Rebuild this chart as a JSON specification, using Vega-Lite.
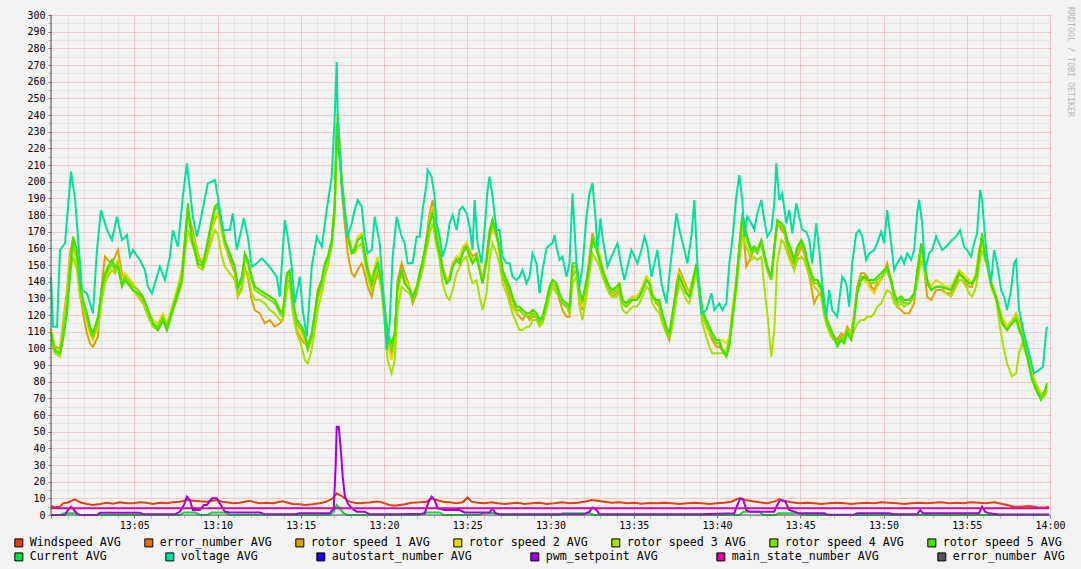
{
  "$schema": "https://vega.github.io/schema/vega-lite/v6.json",
  "width": 999,
  "height": 500,
  "autosize": {"type": "none"},
  "padding": {"left": 51, "top": 15, "right": 31, "bottom": 54},
  "background": "#f3f3f3",
  "config": {
    "view": {"fill": "white", "stroke": null},
    "font": "DejaVu Sans Mono",
    "line": {"strokeWidth": 2}
  },
  "title": {"text": "RRDTOOL / TOBI OETIKER", "orient": "right", "anchor": "start", "frame": "group", "offset": 2, "dx": -8, "fontSize": 8.3, "font": "DejaVu Sans Mono", "fontWeight": "normal", "color": "#b8b8b8"},
  "datasets": {
    "ws": [
      {"t":0,"v":5.4},{"t":0.24,"v":4.6},{"t":0.54,"v":5},{"t":0.72,"v":7},{"t":1.02,"v":7.5},{"t":1.44,"v":9.4},{"t":1.74,"v":7.6},{"t":2.16,"v":6.6},{"t":2.52,"v":6},{"t":2.94,"v":6.6},{"t":3.36,"v":7.4},{"t":3.72,"v":6.8},{"t":4.14,"v":7.6},{"t":4.56,"v":7},{"t":4.92,"v":7},{"t":5.34,"v":7.6},{"t":5.76,"v":7.4},{"t":6.12,"v":6.6},{"t":6.54,"v":7.4},{"t":6.96,"v":7},{"t":7.32,"v":7.6},{"t":7.74,"v":8},{"t":8.16,"v":9},{"t":8.52,"v":8.6},{"t":8.94,"v":8.2},{"t":9.36,"v":8},{"t":9.72,"v":8.6},{"t":9.96,"v":9},{"t":10.26,"v":8},{"t":10.56,"v":7.6},{"t":10.92,"v":7},{"t":11.34,"v":7.4},{"t":11.64,"v":8},{"t":11.94,"v":8.6},{"t":12.24,"v":7.6},{"t":12.54,"v":7},{"t":12.96,"v":7.4},{"t":13.32,"v":7},{"t":13.62,"v":7.6},{"t":13.92,"v":8.2},{"t":14.22,"v":7.4},{"t":14.52,"v":6.6},{"t":14.94,"v":6.5},{"t":15.3,"v":6},{"t":15.72,"v":6.4},{"t":16.14,"v":7},{"t":16.56,"v":8},{"t":16.92,"v":10},{"t":17.16,"v":13},{"t":17.34,"v":12},{"t":17.52,"v":11},{"t":17.76,"v":9},{"t":17.94,"v":8},{"t":18.24,"v":7.4},{"t":18.54,"v":7},{"t":18.84,"v":7.4},{"t":19.14,"v":7.5},{"t":19.44,"v":8},{"t":19.74,"v":8},{"t":20.04,"v":7},{"t":20.34,"v":6},{"t":20.64,"v":5.5},{"t":20.94,"v":6},{"t":21.24,"v":6.5},{"t":21.66,"v":7.4},{"t":22.14,"v":7.6},{"t":22.56,"v":8},{"t":22.86,"v":10},{"t":23.16,"v":9},{"t":23.52,"v":8},{"t":23.94,"v":7.6},{"t":24.36,"v":7},{"t":24.72,"v":7.6},{"t":25.02,"v":10.5},{"t":25.26,"v":8},{"t":25.62,"v":7.4},{"t":26.04,"v":7},{"t":26.46,"v":7.6},{"t":26.82,"v":7},{"t":27.24,"v":6.6},{"t":27.66,"v":7},{"t":28.02,"v":7.4},{"t":28.44,"v":6.6},{"t":28.86,"v":7},{"t":29.34,"v":7.4},{"t":29.76,"v":6.6},{"t":30.24,"v":7},{"t":30.66,"v":7.6},{"t":31.14,"v":7},{"t":31.62,"v":7.4},{"t":32.04,"v":8},{"t":32.46,"v":9},{"t":32.82,"v":8.6},{"t":33.24,"v":8},{"t":33.66,"v":7.4},{"t":34.14,"v":7.6},{"t":34.62,"v":7},{"t":35.04,"v":7.4},{"t":35.46,"v":6.8},{"t":35.94,"v":7.2},{"t":36.42,"v":7},{"t":36.84,"v":7.4},{"t":37.26,"v":7},{"t":37.74,"v":6.6},{"t":38.22,"v":7},{"t":38.64,"v":7.4},{"t":39.06,"v":7},{"t":39.54,"v":6.6},{"t":40.02,"v":7},{"t":40.44,"v":7.4},{"t":40.86,"v":8},{"t":41.22,"v":9.6},{"t":41.46,"v":10},{"t":41.7,"v":9},{"t":42.06,"v":8.4},{"t":42.54,"v":7.6},{"t":43.02,"v":7},{"t":43.44,"v":8},{"t":43.74,"v":9.4},{"t":44.04,"v":8.6},{"t":44.46,"v":7.6},{"t":44.94,"v":7},{"t":45.42,"v":7.4},{"t":45.84,"v":7},{"t":46.26,"v":6.6},{"t":46.74,"v":7},{"t":47.22,"v":7.4},{"t":47.64,"v":7},{"t":48.06,"v":6.6},{"t":48.54,"v":7},{"t":49.02,"v":7.4},{"t":49.44,"v":7},{"t":49.86,"v":7.6},{"t":50.34,"v":7.4},{"t":50.82,"v":7},{"t":51.24,"v":6.6},{"t":51.66,"v":7},{"t":52.14,"v":7.4},{"t":52.62,"v":7},{"t":53.04,"v":7.4},{"t":53.46,"v":7.6},{"t":53.94,"v":7},{"t":54.42,"v":7.4},{"t":54.84,"v":7},{"t":55.26,"v":7.6},{"t":55.74,"v":7.4},{"t":56.16,"v":7},{"t":56.64,"v":7.6},{"t":56.94,"v":7},{"t":57.42,"v":6},{"t":57.84,"v":5},{"t":58.26,"v":5},{"t":58.74,"v":5.4},{"t":59.22,"v":4.6},{"t":59.64,"v":4.4},{"t":59.94,"v":5}
    ],
    "rot": [
      {"t":0,"r1":105,"r2":112,"r3":103,"r4":110,"r5":109},
      {"t":0.24,"r1":101,"r2":100,"r3":97,"r4":98,"r5":99},
      {"t":0.54,"r1":100,"r2":99,"r3":95,"r4":97,"r5":97},
      {"t":0.72,"r1":115,"r2":113,"r3":107,"r4":110,"r5":105},
      {"t":0.96,"r1":135,"r2":131,"r3":125,"r4":127,"r5":121},
      {"t":1.14,"r1":157,"r2":153,"r3":145,"r4":149,"r5":143},
      {"t":1.32,"r1":165,"r2":163,"r3":155,"r4":165,"r5":167},
      {"t":1.56,"r1":151,"r2":150,"r3":147,"r4":155,"r5":159},
      {"t":1.74,"r1":133,"r2":133,"r3":131,"r4":137,"r5":139},
      {"t":1.92,"r1":121,"r2":125,"r3":125,"r4":127,"r5":129},
      {"t":2.16,"r1":109,"r2":117,"r3":117,"r4":119,"r5":121},
      {"t":2.34,"r1":103,"r2":109,"r3":110,"r4":111,"r5":113},
      {"t":2.52,"r1":101,"r2":105,"r3":107,"r4":107,"r5":109},
      {"t":2.82,"r1":107,"r2":113,"r3":113,"r4":117,"r5":119},
      {"t":3.06,"r1":139,"r2":131,"r3":129,"r4":135,"r5":137},
      {"t":3.24,"r1":155,"r2":141,"r3":139,"r4":143,"r5":145},
      {"t":3.42,"r1":153,"r2":145,"r3":143,"r4":147,"r5":149},
      {"t":3.66,"r1":151,"r2":151,"r3":147,"r4":151,"r5":153},
      {"t":3.84,"r1":155,"r2":149,"r3":145,"r4":147,"r5":149},
      {"t":4.02,"r1":159,"r2":153,"r3":149,"r4":151,"r5":149},
      {"t":4.26,"r1":145,"r2":141,"r3":139,"r4":139,"r5":137},
      {"t":4.44,"r1":141,"r2":145,"r3":141,"r4":143,"r5":141},
      {"t":4.62,"r1":139,"r2":143,"r3":139,"r4":141,"r5":139},
      {"t":4.92,"r1":135,"r2":139,"r3":135,"r4":137,"r5":135},
      {"t":5.22,"r1":133,"r2":135,"r3":131,"r4":135,"r5":133},
      {"t":5.52,"r1":129,"r2":131,"r3":127,"r4":131,"r5":131},
      {"t":5.82,"r1":121,"r2":123,"r3":119,"r4":123,"r5":123},
      {"t":6.12,"r1":113,"r2":117,"r3":113,"r4":115,"r5":115},
      {"t":6.42,"r1":111,"r2":115,"r3":111,"r4":113,"r5":111},
      {"t":6.72,"r1":117,"r2":121,"r3":117,"r4":119,"r5":117},
      {"t":6.96,"r1":111,"r2":115,"r3":113,"r4":113,"r5":111},
      {"t":7.26,"r1":121,"r2":125,"r3":121,"r4":123,"r5":121},
      {"t":7.56,"r1":133,"r2":135,"r3":129,"r4":133,"r5":131},
      {"t":7.86,"r1":147,"r2":147,"r3":139,"r4":143,"r5":141},
      {"t":8.04,"r1":165,"r2":163,"r3":157,"r4":165,"r5":163},
      {"t":8.22,"r1":181,"r2":177,"r3":171,"r4":183,"r5":187},
      {"t":8.46,"r1":173,"r2":169,"r3":163,"r4":167,"r5":165},
      {"t":8.64,"r1":165,"r2":163,"r3":157,"r4":161,"r5":159},
      {"t":8.82,"r1":157,"r2":155,"r3":149,"r4":153,"r5":151},
      {"t":9.12,"r1":149,"r2":153,"r3":147,"r4":151,"r5":149},
      {"t":9.42,"r1":161,"r2":163,"r3":157,"r4":163,"r5":165},
      {"t":9.66,"r1":171,"r2":171,"r3":165,"r4":175,"r5":177},
      {"t":9.84,"r1":177,"r2":179,"r3":171,"r4":183,"r5":185},
      {"t":10.02,"r1":181,"r2":181,"r3":169,"r4":185,"r5":187},
      {"t":10.26,"r1":171,"r2":169,"r3":155,"r4":173,"r5":175},
      {"t":10.44,"r1":163,"r2":161,"r3":149,"r4":163,"r5":165},
      {"t":10.74,"r1":153,"r2":155,"r3":145,"r4":155,"r5":157},
      {"t":11.04,"r1":145,"r2":147,"r3":141,"r4":147,"r5":149},
      {"t":11.22,"r1":131,"r2":137,"r3":131,"r4":135,"r5":137},
      {"t":11.46,"r1":137,"r2":141,"r3":135,"r4":141,"r5":143},
      {"t":11.64,"r1":149,"r2":153,"r3":147,"r4":155,"r5":157},
      {"t":11.82,"r1":143,"r2":151,"r3":145,"r4":151,"r5":153},
      {"t":12.06,"r1":129,"r2":141,"r3":133,"r4":141,"r5":143},
      {"t":12.24,"r1":123,"r2":137,"r3":129,"r4":135,"r5":137},
      {"t":12.54,"r1":121,"r2":135,"r3":129,"r4":133,"r5":135},
      {"t":12.84,"r1":115,"r2":133,"r3":127,"r4":131,"r5":133},
      {"t":13.14,"r1":117,"r2":131,"r3":123,"r4":129,"r5":131},
      {"t":13.44,"r1":113,"r2":129,"r3":121,"r4":127,"r5":129},
      {"t":13.74,"r1":115,"r2":123,"r3":117,"r4":121,"r5":123},
      {"t":13.92,"r1":117,"r2":121,"r3":117,"r4":119,"r5":121},
      {"t":14.16,"r1":139,"r2":141,"r3":135,"r4":143,"r5":145},
      {"t":14.34,"r1":141,"r2":143,"r3":139,"r4":145,"r5":147},
      {"t":14.52,"r1":125,"r2":127,"r3":121,"r4":127,"r5":129},
      {"t":14.76,"r1":111,"r2":115,"r3":109,"r4":115,"r5":117},
      {"t":15.06,"r1":105,"r2":109,"r3":101,"r4":111,"r5":113},
      {"t":15.24,"r1":103,"r2":105,"r3":93,"r4":107,"r5":109},
      {"t":15.42,"r1":101,"r2":99,"r3":91,"r4":99,"r5":101},
      {"t":15.66,"r1":109,"r2":107,"r3":99,"r4":107,"r5":109},
      {"t":15.84,"r1":121,"r2":117,"r3":111,"r4":119,"r5":121},
      {"t":16.02,"r1":135,"r2":129,"r3":123,"r4":131,"r5":133},
      {"t":16.26,"r1":141,"r2":137,"r3":133,"r4":139,"r5":141},
      {"t":16.44,"r1":147,"r2":147,"r3":143,"r4":149,"r5":151},
      {"t":16.62,"r1":153,"r2":153,"r3":149,"r4":153,"r5":155},
      {"t":16.86,"r1":163,"r2":165,"r3":161,"r4":163,"r5":165},
      {"t":17.04,"r1":185,"r2":187,"r3":181,"r4":183,"r5":187},
      {"t":17.16,"r1":225,"r2":229,"r3":217,"r4":233,"r5":235},
      {"t":17.22,"r1":241,"r2":233,"r3":225,"r4":229,"r5":221},
      {"t":17.34,"r1":223,"r2":221,"r3":215,"r4":219,"r5":213},
      {"t":17.46,"r1":195,"r2":203,"r3":199,"r4":201,"r5":199},
      {"t":17.64,"r1":175,"r2":185,"r3":181,"r4":183,"r5":181},
      {"t":17.82,"r1":157,"r2":169,"r3":167,"r4":169,"r5":167},
      {"t":18.06,"r1":145,"r2":159,"r3":157,"r4":159,"r5":157},
      {"t":18.24,"r1":143,"r2":161,"r3":157,"r4":159,"r5":159},
      {"t":18.42,"r1":147,"r2":167,"r3":161,"r4":165,"r5":165},
      {"t":18.66,"r1":151,"r2":169,"r3":163,"r4":167,"r5":167},
      {"t":18.84,"r1":145,"r2":159,"r3":153,"r4":157,"r5":157},
      {"t":19.02,"r1":137,"r2":149,"r3":143,"r4":147,"r5":147},
      {"t":19.26,"r1":131,"r2":141,"r3":135,"r4":139,"r5":139},
      {"t":19.44,"r1":139,"r2":149,"r3":143,"r4":147,"r5":147},
      {"t":19.62,"r1":145,"r2":155,"r3":149,"r4":151,"r5":151},
      {"t":19.86,"r1":137,"r2":141,"r3":133,"r4":139,"r5":139},
      {"t":20.04,"r1":125,"r2":123,"r3":115,"r4":123,"r5":125},
      {"t":20.22,"r1":105,"r2":103,"r3":93,"r4":107,"r5":109},
      {"t":20.46,"r1":95,"r2":93,"r3":85,"r4":99,"r5":103},
      {"t":20.64,"r1":105,"r2":101,"r3":93,"r4":107,"r5":109},
      {"t":20.82,"r1":141,"r2":133,"r3":123,"r4":139,"r5":137},
      {"t":21.06,"r1":151,"r2":145,"r3":137,"r4":147,"r5":147},
      {"t":21.24,"r1":145,"r2":141,"r3":135,"r4":139,"r5":139},
      {"t":21.54,"r1":137,"r2":137,"r3":133,"r4":135,"r5":135},
      {"t":21.72,"r1":127,"r2":131,"r3":129,"r4":129,"r5":131},
      {"t":21.96,"r1":133,"r2":137,"r3":135,"r4":135,"r5":137},
      {"t":22.14,"r1":141,"r2":145,"r3":141,"r4":143,"r5":145},
      {"t":22.32,"r1":149,"r2":151,"r3":147,"r4":151,"r5":153},
      {"t":22.56,"r1":167,"r2":163,"r3":159,"r4":163,"r5":165},
      {"t":22.74,"r1":181,"r2":177,"r3":169,"r4":175,"r5":175},
      {"t":22.92,"r1":189,"r2":185,"r3":175,"r4":183,"r5":181},
      {"t":23.16,"r1":171,"r2":169,"r3":161,"r4":167,"r5":165},
      {"t":23.34,"r1":161,"r2":161,"r3":153,"r4":159,"r5":157},
      {"t":23.52,"r1":149,"r2":147,"r3":139,"r4":147,"r5":147},
      {"t":23.76,"r1":141,"r2":141,"r3":131,"r4":139,"r5":139},
      {"t":23.94,"r1":143,"r2":143,"r3":129,"r4":141,"r5":141},
      {"t":24.12,"r1":151,"r2":151,"r3":135,"r4":149,"r5":149},
      {"t":24.36,"r1":155,"r2":155,"r3":145,"r4":153,"r5":153},
      {"t":24.54,"r1":153,"r2":155,"r3":149,"r4":151,"r5":151},
      {"t":24.72,"r1":159,"r2":161,"r3":153,"r4":157,"r5":157},
      {"t":24.96,"r1":163,"r2":163,"r3":155,"r4":161,"r5":161},
      {"t":25.14,"r1":159,"r2":157,"r3":145,"r4":155,"r5":155},
      {"t":25.32,"r1":155,"r2":153,"r3":139,"r4":151,"r5":151},
      {"t":25.56,"r1":157,"r2":155,"r3":141,"r4":155,"r5":155},
      {"t":25.74,"r1":149,"r2":149,"r3":131,"r4":147,"r5":147},
      {"t":25.92,"r1":141,"r2":141,"r3":123,"r4":139,"r5":139},
      {"t":26.16,"r1":155,"r2":151,"r3":133,"r4":153,"r5":153},
      {"t":26.34,"r1":171,"r2":165,"r3":153,"r4":167,"r5":169},
      {"t":26.52,"r1":177,"r2":171,"r3":163,"r4":175,"r5":177},
      {"t":26.76,"r1":169,"r2":167,"r3":157,"r4":167,"r5":169},
      {"t":26.94,"r1":157,"r2":159,"r3":151,"r4":159,"r5":161},
      {"t":27.12,"r1":143,"r2":147,"r3":139,"r4":145,"r5":147},
      {"t":27.36,"r1":137,"r2":141,"r3":133,"r4":139,"r5":141},
      {"t":27.54,"r1":131,"r2":135,"r3":127,"r4":135,"r5":137},
      {"t":27.72,"r1":125,"r2":127,"r3":121,"r4":129,"r5":131},
      {"t":27.96,"r1":121,"r2":121,"r3":115,"r4":123,"r5":125},
      {"t":28.14,"r1":119,"r2":123,"r3":111,"r4":123,"r5":125},
      {"t":28.32,"r1":117,"r2":123,"r3":111,"r4":121,"r5":123},
      {"t":28.56,"r1":121,"r2":121,"r3":113,"r4":119,"r5":121},
      {"t":28.74,"r1":117,"r2":119,"r3":113,"r4":119,"r5":121},
      {"t":28.92,"r1":119,"r2":123,"r3":117,"r4":121,"r5":123},
      {"t":29.16,"r1":119,"r2":121,"r3":117,"r4":119,"r5":121},
      {"t":29.34,"r1":117,"r2":117,"r3":113,"r4":115,"r5":117},
      {"t":29.52,"r1":119,"r2":119,"r3":115,"r4":117,"r5":119},
      {"t":29.76,"r1":125,"r2":127,"r3":123,"r4":127,"r5":129},
      {"t":29.94,"r1":133,"r2":135,"r3":131,"r4":135,"r5":137},
      {"t":30.12,"r1":137,"r2":141,"r3":137,"r4":139,"r5":141},
      {"t":30.36,"r1":135,"r2":139,"r3":133,"r4":137,"r5":139},
      {"t":30.54,"r1":129,"r2":133,"r3":131,"r4":131,"r5":133},
      {"t":30.72,"r1":123,"r2":129,"r3":127,"r4":127,"r5":129},
      {"t":30.96,"r1":119,"r2":127,"r3":125,"r4":125,"r5":127},
      {"t":31.14,"r1":119,"r2":125,"r3":121,"r4":123,"r5":125},
      {"t":31.32,"r1":143,"r2":145,"r3":139,"r4":149,"r5":151},
      {"t":31.56,"r1":147,"r2":149,"r3":143,"r4":149,"r5":151},
      {"t":31.74,"r1":131,"r2":131,"r3":125,"r4":133,"r5":135},
      {"t":31.92,"r1":123,"r2":125,"r3":117,"r4":127,"r5":129},
      {"t":32.16,"r1":139,"r2":137,"r3":131,"r4":139,"r5":141},
      {"t":32.34,"r1":155,"r2":153,"r3":145,"r4":151,"r5":151},
      {"t":32.52,"r1":169,"r2":165,"r3":157,"r4":167,"r5":165},
      {"t":32.76,"r1":161,"r2":163,"r3":153,"r4":161,"r5":159},
      {"t":32.94,"r1":153,"r2":157,"r3":149,"r4":155,"r5":153},
      {"t":33.12,"r1":145,"r2":149,"r3":143,"r4":147,"r5":147},
      {"t":33.36,"r1":137,"r2":141,"r3":137,"r4":139,"r5":141},
      {"t":33.54,"r1":133,"r2":137,"r3":133,"r4":135,"r5":137},
      {"t":33.72,"r1":131,"r2":135,"r3":131,"r4":133,"r5":135},
      {"t":33.96,"r1":133,"r2":137,"r3":131,"r4":135,"r5":137},
      {"t":34.14,"r1":135,"r2":139,"r3":133,"r4":137,"r5":139},
      {"t":34.32,"r1":127,"r2":129,"r3":123,"r4":127,"r5":129},
      {"t":34.56,"r1":125,"r2":127,"r3":121,"r4":125,"r5":127},
      {"t":34.74,"r1":127,"r2":129,"r3":123,"r4":127,"r5":129},
      {"t":34.92,"r1":131,"r2":131,"r3":125,"r4":129,"r5":129},
      {"t":35.16,"r1":131,"r2":131,"r3":125,"r4":129,"r5":129},
      {"t":35.34,"r1":133,"r2":133,"r3":127,"r4":131,"r5":131},
      {"t":35.52,"r1":137,"r2":137,"r3":131,"r4":135,"r5":135},
      {"t":35.76,"r1":143,"r2":143,"r3":137,"r4":141,"r5":141},
      {"t":35.94,"r1":141,"r2":141,"r3":135,"r4":139,"r5":139},
      {"t":36.12,"r1":131,"r2":133,"r3":127,"r4":131,"r5":131},
      {"t":36.36,"r1":127,"r2":129,"r3":123,"r4":127,"r5":129},
      {"t":36.54,"r1":125,"r2":127,"r3":121,"r4":127,"r5":129},
      {"t":36.72,"r1":117,"r2":119,"r3":115,"r4":119,"r5":121},
      {"t":36.96,"r1":109,"r2":111,"r3":109,"r4":111,"r5":113},
      {"t":37.14,"r1":105,"r2":107,"r3":107,"r4":107,"r5":109},
      {"t":37.32,"r1":117,"r2":117,"r3":113,"r4":119,"r5":121},
      {"t":37.56,"r1":139,"r2":135,"r3":129,"r4":135,"r5":135},
      {"t":37.74,"r1":147,"r2":145,"r3":139,"r4":143,"r5":143},
      {"t":37.92,"r1":143,"r2":141,"r3":135,"r4":139,"r5":139},
      {"t":38.16,"r1":137,"r2":135,"r3":129,"r4":133,"r5":133},
      {"t":38.34,"r1":133,"r2":133,"r3":127,"r4":131,"r5":131},
      {"t":38.52,"r1":141,"r2":141,"r3":135,"r4":139,"r5":139},
      {"t":38.76,"r1":149,"r2":149,"r3":145,"r4":149,"r5":151},
      {"t":38.94,"r1":133,"r2":137,"r3":131,"r4":135,"r5":137},
      {"t":39.12,"r1":119,"r2":121,"r3":115,"r4":121,"r5":123},
      {"t":39.36,"r1":113,"r2":113,"r3":107,"r4":115,"r5":117},
      {"t":39.54,"r1":109,"r2":109,"r3":101,"r4":111,"r5":113},
      {"t":39.72,"r1":105,"r2":107,"r3":97,"r4":107,"r5":109},
      {"t":39.96,"r1":101,"r2":105,"r3":97,"r4":103,"r5":105},
      {"t":40.14,"r1":101,"r2":105,"r3":97,"r4":103,"r5":105},
      {"t":40.32,"r1":99,"r2":105,"r3":97,"r4":99,"r5":99},
      {"t":40.56,"r1":97,"r2":103,"r3":99,"r4":95,"r5":95},
      {"t":40.74,"r1":105,"r2":107,"r3":105,"r4":103,"r5":101},
      {"t":40.92,"r1":121,"r2":123,"r3":117,"r4":119,"r5":117},
      {"t":41.16,"r1":141,"r2":141,"r3":135,"r4":139,"r5":139},
      {"t":41.34,"r1":161,"r2":159,"r3":153,"r4":159,"r5":161},
      {"t":41.52,"r1":177,"r2":175,"r3":167,"r4":179,"r5":181},
      {"t":41.76,"r1":149,"r2":165,"r3":161,"r4":167,"r5":169},
      {"t":42.06,"r1":155,"r2":159,"r3":153,"r4":157,"r5":159},
      {"t":42.24,"r1":161,"r2":161,"r3":155,"r4":159,"r5":161},
      {"t":42.42,"r1":159,"r2":159,"r3":153,"r4":157,"r5":159},
      {"t":42.66,"r1":163,"r2":165,"r3":155,"r4":163,"r5":165},
      {"t":42.84,"r1":155,"r2":157,"r3":137,"r4":155,"r5":157},
      {"t":43.02,"r1":147,"r2":149,"r3":121,"r4":147,"r5":149},
      {"t":43.26,"r1":141,"r2":143,"r3":95,"r4":141,"r5":143},
      {"t":43.44,"r1":159,"r2":161,"r3":111,"r4":159,"r5":161},
      {"t":43.62,"r1":177,"r2":173,"r3":151,"r4":175,"r5":177},
      {"t":43.86,"r1":171,"r2":175,"r3":165,"r4":173,"r5":175},
      {"t":44.04,"r1":169,"r2":171,"r3":163,"r4":171,"r5":173},
      {"t":44.22,"r1":161,"r2":163,"r3":157,"r4":163,"r5":165},
      {"t":44.46,"r1":153,"r2":157,"r3":151,"r4":157,"r5":159},
      {"t":44.64,"r1":147,"r2":151,"r3":147,"r4":151,"r5":153},
      {"t":44.82,"r1":155,"r2":159,"r3":153,"r4":159,"r5":161},
      {"t":45.06,"r1":161,"r2":163,"r3":155,"r4":163,"r5":165},
      {"t":45.24,"r1":157,"r2":159,"r3":153,"r4":159,"r5":161},
      {"t":45.42,"r1":149,"r2":153,"r3":147,"r4":151,"r5":153},
      {"t":45.66,"r1":137,"r2":145,"r3":141,"r4":143,"r5":145},
      {"t":45.84,"r1":127,"r2":141,"r3":137,"r4":139,"r5":141},
      {"t":46.02,"r1":131,"r2":141,"r3":135,"r4":139,"r5":141},
      {"t":46.26,"r1":133,"r2":135,"r3":131,"r4":135,"r5":137},
      {"t":46.44,"r1":121,"r2":121,"r3":119,"r4":123,"r5":125},
      {"t":46.62,"r1":115,"r2":113,"r3":113,"r4":115,"r5":117},
      {"t":46.86,"r1":109,"r2":107,"r3":107,"r4":109,"r5":111},
      {"t":47.04,"r1":107,"r2":105,"r3":105,"r4":105,"r5":107},
      {"t":47.22,"r1":105,"r2":103,"r3":103,"r4":103,"r5":101},
      {"t":47.46,"r1":109,"r2":107,"r3":105,"r4":107,"r5":105},
      {"t":47.64,"r1":107,"r2":105,"r3":105,"r4":105,"r5":103},
      {"t":47.82,"r1":113,"r2":111,"r3":109,"r4":111,"r5":109},
      {"t":48.06,"r1":109,"r2":109,"r3":107,"r4":107,"r5":105},
      {"t":48.24,"r1":121,"r2":119,"r3":111,"r4":119,"r5":117},
      {"t":48.42,"r1":137,"r2":133,"r3":115,"r4":135,"r5":133},
      {"t":48.66,"r1":145,"r2":141,"r3":117,"r4":143,"r5":141},
      {"t":48.84,"r1":145,"r2":141,"r3":117,"r4":143,"r5":143},
      {"t":49.02,"r1":143,"r2":139,"r3":119,"r4":141,"r5":141},
      {"t":49.26,"r1":137,"r2":135,"r3":119,"r4":139,"r5":141},
      {"t":49.44,"r1":135,"r2":133,"r3":121,"r4":139,"r5":141},
      {"t":49.62,"r1":139,"r2":137,"r3":125,"r4":141,"r5":143},
      {"t":49.86,"r1":141,"r2":141,"r3":127,"r4":143,"r5":145},
      {"t":50.04,"r1":145,"r2":147,"r3":131,"r4":145,"r5":147},
      {"t":50.22,"r1":151,"r2":149,"r3":135,"r4":147,"r5":149},
      {"t":50.46,"r1":141,"r2":141,"r3":133,"r4":139,"r5":141},
      {"t":50.64,"r1":131,"r2":133,"r3":127,"r4":131,"r5":133},
      {"t":50.82,"r1":125,"r2":129,"r3":125,"r4":127,"r5":129},
      {"t":51.06,"r1":123,"r2":131,"r3":127,"r4":129,"r5":131},
      {"t":51.24,"r1":121,"r2":129,"r3":125,"r4":127,"r5":129},
      {"t":51.54,"r1":121,"r2":129,"r3":127,"r4":127,"r5":129},
      {"t":51.84,"r1":127,"r2":133,"r3":131,"r4":131,"r5":133},
      {"t":52.02,"r1":147,"r2":141,"r3":139,"r4":143,"r5":145},
      {"t":52.26,"r1":161,"r2":157,"r3":153,"r4":161,"r5":163},
      {"t":52.44,"r1":149,"r2":151,"r3":147,"r4":151,"r5":153},
      {"t":52.62,"r1":131,"r2":141,"r3":139,"r4":139,"r5":141},
      {"t":52.86,"r1":129,"r2":137,"r3":135,"r4":135,"r5":135},
      {"t":53.16,"r1":135,"r2":141,"r3":137,"r4":137,"r5":137},
      {"t":53.46,"r1":135,"r2":139,"r3":137,"r4":137,"r5":137},
      {"t":53.76,"r1":133,"r2":137,"r3":133,"r4":136,"r5":136},
      {"t":54.06,"r1":133,"r2":137,"r3":131,"r4":135,"r5":135},
      {"t":54.36,"r1":139,"r2":143,"r3":137,"r4":141,"r5":141},
      {"t":54.54,"r1":145,"r2":147,"r3":141,"r4":145,"r5":145},
      {"t":54.72,"r1":145,"r2":145,"r3":141,"r4":143,"r5":143},
      {"t":54.96,"r1":139,"r2":143,"r3":137,"r4":141,"r5":141},
      {"t":55.14,"r1":137,"r2":141,"r3":133,"r4":139,"r5":139},
      {"t":55.32,"r1":137,"r2":139,"r3":131,"r4":139,"r5":139},
      {"t":55.56,"r1":145,"r2":145,"r3":137,"r4":143,"r5":143},
      {"t":55.74,"r1":159,"r2":157,"r3":149,"r4":155,"r5":155},
      {"t":55.92,"r1":165,"r2":163,"r3":159,"r4":167,"r5":169},
      {"t":56.1,"r1":155,"r2":157,"r3":153,"r4":155,"r5":155},
      {"t":56.22,"r1":151,"r2":153,"r3":149,"r4":151,"r5":151},
      {"t":56.46,"r1":139,"r2":141,"r3":137,"r4":139,"r5":139},
      {"t":56.76,"r1":131,"r2":131,"r3":129,"r4":131,"r5":131},
      {"t":56.94,"r1":123,"r2":125,"r3":117,"r4":123,"r5":123},
      {"t":57.12,"r1":117,"r2":119,"r3":105,"r4":115,"r5":115},
      {"t":57.42,"r1":113,"r2":113,"r3":91,"r4":111,"r5":111},
      {"t":57.72,"r1":117,"r2":117,"r3":83,"r4":115,"r5":115},
      {"t":57.96,"r1":121,"r2":121,"r3":85,"r4":119,"r5":117},
      {"t":58.14,"r1":117,"r2":115,"r3":97,"r4":113,"r5":111},
      {"t":58.32,"r1":111,"r2":109,"r3":103,"r4":109,"r5":107},
      {"t":58.62,"r1":99,"r2":97,"r3":95,"r4":97,"r5":95},
      {"t":58.92,"r1":85,"r2":85,"r3":83,"r4":83,"r5":81},
      {"t":59.16,"r1":79,"r2":79,"r3":77,"r4":77,"r5":75},
      {"t":59.46,"r1":73,"r2":73,"r3":71,"r4":71,"r5":69},
      {"t":59.64,"r1":73,"r2":71,"r3":71,"r4":73,"r5":73},
      {"t":59.82,"r1":77,"r2":75,"r3":75,"r4":77,"r5":79}
    ],
    "cur": [
      {"t":0,"v":0},{"t":0.54,"v":0},{"t":0.78,"v":1},{"t":1.44,"v":1},{"t":1.74,"v":0},{"t":7.74,"v":0},{"t":7.98,"v":1.5},{"t":8.64,"v":1.5},{"t":8.94,"v":0},{"t":9.42,"v":0},{"t":9.66,"v":1.5},{"t":10.44,"v":1.5},{"t":10.74,"v":0},{"t":16.74,"v":0},{"t":16.98,"v":2},{"t":17.16,"v":6},{"t":17.34,"v":4},{"t":17.58,"v":1},{"t":17.82,"v":0},{"t":22.14,"v":0},{"t":22.38,"v":1.5},{"t":23.34,"v":1.5},{"t":23.58,"v":0},{"t":25.74,"v":0},{"t":25.98,"v":1.2},{"t":26.64,"v":1.2},{"t":26.94,"v":0},{"t":30.54,"v":0},{"t":30.72,"v":1},{"t":32.34,"v":1},{"t":32.64,"v":0},{"t":41.34,"v":0},{"t":41.58,"v":2},{"t":42.54,"v":2},{"t":42.78,"v":0},{"t":43.5,"v":0},{"t":43.68,"v":1},{"t":44.94,"v":1},{"t":45.18,"v":0},{"t":59.94,"v":0}
    ],
    "volt": [
      {"t":0,"v":143},{"t":0.12,"v":113},{"t":0.36,"v":113},{"t":0.54,"v":159},{"t":0.84,"v":163},{"t":1.2,"v":206},{"t":1.44,"v":190},{"t":1.62,"v":167},{"t":1.86,"v":135},{"t":2.16,"v":133},{"t":2.52,"v":121},{"t":2.76,"v":159},{"t":3.0,"v":183},{"t":3.36,"v":171},{"t":3.66,"v":165},{"t":3.96,"v":179},{"t":4.26,"v":165},{"t":4.56,"v":168},{"t":4.74,"v":155},{"t":4.92,"v":159},{"t":5.34,"v":153},{"t":5.64,"v":147},{"t":5.82,"v":137},{"t":6.06,"v":133},{"t":6.54,"v":149},{"t":6.84,"v":141},{"t":7.14,"v":155},{"t":7.32,"v":171},{"t":7.62,"v":161},{"t":7.92,"v":191},{"t":8.16,"v":211},{"t":8.34,"v":195},{"t":8.52,"v":179},{"t":8.76,"v":167},{"t":8.94,"v":175},{"t":9.42,"v":199},{"t":9.84,"v":201},{"t":10.02,"v":191},{"t":10.32,"v":171},{"t":10.74,"v":171},{"t":10.92,"v":181},{"t":11.16,"v":159},{"t":11.34,"v":167},{"t":11.58,"v":178},{"t":11.82,"v":167},{"t":12.06,"v":149},{"t":12.36,"v":151},{"t":12.66,"v":154},{"t":12.96,"v":151},{"t":13.26,"v":147},{"t":13.56,"v":143},{"t":13.74,"v":131},{"t":14.04,"v":177},{"t":14.22,"v":167},{"t":14.46,"v":149},{"t":14.64,"v":127},{"t":14.94,"v":143},{"t":15.12,"v":123},{"t":15.36,"v":107},{"t":15.66,"v":149},{"t":15.96,"v":167},{"t":16.26,"v":161},{"t":16.56,"v":183},{"t":16.86,"v":203},{"t":17.04,"v":239},{"t":17.16,"v":272},{"t":17.22,"v":239},{"t":17.46,"v":199},{"t":17.64,"v":183},{"t":17.82,"v":167},{"t":18.06,"v":175},{"t":18.24,"v":183},{"t":18.42,"v":189},{"t":18.66,"v":185},{"t":18.84,"v":167},{"t":19.02,"v":157},{"t":19.26,"v":159},{"t":19.44,"v":179},{"t":19.74,"v":163},{"t":19.92,"v":139},{"t":20.16,"v":99},{"t":20.34,"v":115},{"t":20.52,"v":155},{"t":20.76,"v":179},{"t":21.06,"v":167},{"t":21.24,"v":163},{"t":21.42,"v":151},{"t":21.72,"v":151},{"t":21.96,"v":167},{"t":22.14,"v":167},{"t":22.32,"v":183},{"t":22.56,"v":199},{"t":22.62,"v":207},{"t":22.86,"v":203},{"t":23.04,"v":191},{"t":23.16,"v":175},{"t":23.34,"v":167},{"t":23.52,"v":155},{"t":23.76,"v":163},{"t":23.94,"v":175},{"t":24.12,"v":180},{"t":24.36,"v":171},{"t":24.54,"v":183},{"t":24.72,"v":185},{"t":24.96,"v":181},{"t":25.14,"v":173},{"t":25.32,"v":159},{"t":25.44,"v":189},{"t":25.62,"v":163},{"t":25.86,"v":151},{"t":26.04,"v":171},{"t":26.22,"v":195},{"t":26.34,"v":203},{"t":26.52,"v":191},{"t":26.76,"v":171},{"t":26.94,"v":171},{"t":27.12,"v":155},{"t":27.36,"v":151},{"t":27.54,"v":151},{"t":27.72,"v":143},{"t":27.96,"v":141},{"t":28.14,"v":143},{"t":28.32,"v":147},{"t":28.56,"v":139},{"t":28.74,"v":143},{"t":28.92,"v":157},{"t":29.16,"v":151},{"t":29.34,"v":133},{"t":29.52,"v":147},{"t":29.76,"v":160},{"t":29.94,"v":162},{"t":30.12,"v":163},{"t":30.24,"v":168},{"t":30.36,"v":161},{"t":30.54,"v":153},{"t":30.72,"v":155},{"t":30.96,"v":143},{"t":31.14,"v":151},{"t":31.32,"v":193},{"t":31.56,"v":151},{"t":31.74,"v":137},{"t":31.92,"v":149},{"t":32.16,"v":179},{"t":32.34,"v":193},{"t":32.52,"v":199},{"t":32.7,"v":179},{"t":32.82,"v":159},{"t":33.0,"v":178},{"t":33.12,"v":167},{"t":33.42,"v":149},{"t":33.66,"v":155},{"t":33.84,"v":159},{"t":34.02,"v":163},{"t":34.26,"v":149},{"t":34.44,"v":141},{"t":34.62,"v":149},{"t":34.86,"v":159},{"t":35.04,"v":155},{"t":35.22,"v":151},{"t":35.46,"v":159},{"t":35.64,"v":167},{"t":35.82,"v":161},{"t":36.06,"v":143},{"t":36.24,"v":151},{"t":36.42,"v":159},{"t":36.66,"v":139},{"t":36.96,"v":127},{"t":37.26,"v":155},{"t":37.56,"v":181},{"t":37.74,"v":171},{"t":38.04,"v":159},{"t":38.22,"v":151},{"t":38.46,"v":167},{"t":38.64,"v":189},{"t":38.82,"v":151},{"t":39.06,"v":121},{"t":39.36,"v":123},{"t":39.66,"v":133},{"t":39.84,"v":123},{"t":40.14,"v":127},{"t":40.32,"v":123},{"t":40.56,"v":127},{"t":40.74,"v":151},{"t":40.92,"v":165},{"t":41.16,"v":191},{"t":41.34,"v":204},{"t":41.52,"v":189},{"t":41.64,"v":167},{"t":41.82,"v":179},{"t":42.06,"v":175},{"t":42.24,"v":171},{"t":42.42,"v":181},{"t":42.66,"v":189},{"t":42.84,"v":177},{"t":43.02,"v":167},{"t":43.26,"v":171},{"t":43.44,"v":187},{"t":43.56,"v":211},{"t":43.74,"v":189},{"t":43.92,"v":193},{"t":44.16,"v":175},{"t":44.34,"v":183},{"t":44.52,"v":169},{"t":44.76,"v":187},{"t":44.94,"v":179},{"t":45.12,"v":171},{"t":45.36,"v":170},{"t":45.54,"v":165},{"t":45.72,"v":151},{"t":45.96,"v":175},{"t":46.14,"v":159},{"t":46.32,"v":139},{"t":46.56,"v":119},{"t":46.74,"v":135},{"t":46.92,"v":123},{"t":47.22,"v":119},{"t":47.52,"v":143},{"t":47.76,"v":139},{"t":47.94,"v":125},{"t":48.12,"v":151},{"t":48.36,"v":169},{"t":48.54,"v":171},{"t":48.72,"v":167},{"t":48.96,"v":153},{"t":49.14,"v":157},{"t":49.44,"v":159},{"t":49.62,"v":163},{"t":49.86,"v":170},{"t":50.04,"v":163},{"t":50.22,"v":183},{"t":50.46,"v":163},{"t":50.64,"v":147},{"t":50.82,"v":151},{"t":51.06,"v":155},{"t":51.24,"v":151},{"t":51.42,"v":157},{"t":51.66,"v":153},{"t":51.84,"v":159},{"t":52.02,"v":181},{"t":52.14,"v":189},{"t":52.32,"v":175},{"t":52.5,"v":147},{"t":52.74,"v":157},{"t":52.92,"v":159},{"t":53.16,"v":167},{"t":53.34,"v":163},{"t":53.52,"v":159},{"t":53.76,"v":161},{"t":53.94,"v":163},{"t":54.12,"v":165},{"t":54.36,"v":167},{"t":54.6,"v":171},{"t":54.84,"v":161},{"t":55.02,"v":159},{"t":55.26,"v":155},{"t":55.44,"v":163},{"t":55.62,"v":169},{"t":55.8,"v":195},{"t":55.92,"v":189},{"t":56.1,"v":167},{"t":56.22,"v":155},{"t":56.46,"v":139},{"t":56.64,"v":159},{"t":56.82,"v":151},{"t":57.06,"v":135},{"t":57.24,"v":131},{"t":57.42,"v":123},{"t":57.66,"v":135},{"t":57.84,"v":151},{"t":57.96,"v":153},{"t":58.14,"v":123},{"t":58.44,"v":109},{"t":58.74,"v":97},{"t":59.04,"v":85},{"t":59.34,"v":87},{"t":59.58,"v":89},{"t":59.76,"v":109},{"t":59.82,"v":113}
    ],
    "pwm": [
      {"t":0,"v":0},{"t":0.84,"v":0},{"t":1.02,"v":3},{"t":1.2,"v":5},{"t":1.38,"v":3},{"t":1.56,"v":1},{"t":1.74,"v":0},{"t":2.76,"v":0},{"t":2.94,"v":1.4},{"t":5.34,"v":1.4},{"t":5.52,"v":0.4},{"t":7.44,"v":0.4},{"t":7.74,"v":2},{"t":7.98,"v":6},{"t":8.16,"v":11},{"t":8.34,"v":9},{"t":8.52,"v":3},{"t":8.94,"v":3},{"t":9.18,"v":6},{"t":9.36,"v":6},{"t":9.66,"v":10},{"t":9.96,"v":10},{"t":10.2,"v":6},{"t":10.44,"v":2},{"t":10.74,"v":1.5},{"t":12.54,"v":1.5},{"t":12.84,"v":0.5},{"t":14.64,"v":0.5},{"t":14.94,"v":1},{"t":16.74,"v":1},{"t":16.98,"v":4},{"t":17.1,"v":30},{"t":17.16,"v":53},{"t":17.28,"v":53},{"t":17.4,"v":40},{"t":17.52,"v":23},{"t":17.64,"v":12},{"t":17.82,"v":7},{"t":18.06,"v":4},{"t":18.36,"v":2},{"t":18.84,"v":2},{"t":19.14,"v":0.4},{"t":20.94,"v":0.4},{"t":22.44,"v":0.8},{"t":22.68,"v":8},{"t":22.86,"v":11},{"t":23.04,"v":9},{"t":23.22,"v":4},{"t":23.64,"v":3},{"t":24.54,"v":3},{"t":24.84,"v":1.5},{"t":26.34,"v":1.5},{"t":26.52,"v":4},{"t":26.7,"v":1},{"t":26.94,"v":0.4},{"t":32.04,"v":0.4},{"t":32.34,"v":2},{"t":32.52,"v":4.5},{"t":32.76,"v":3},{"t":32.94,"v":0.4},{"t":38.94,"v":0.4},{"t":41.04,"v":1},{"t":41.22,"v":6},{"t":41.4,"v":10},{"t":41.58,"v":9},{"t":41.76,"v":3},{"t":41.94,"v":2},{"t":43.44,"v":2},{"t":43.62,"v":6},{"t":43.8,"v":9},{"t":44.1,"v":8},{"t":44.34,"v":3},{"t":44.94,"v":1},{"t":46.44,"v":1},{"t":46.62,"v":0.2},{"t":48.24,"v":0.2},{"t":48.42,"v":1},{"t":50.34,"v":1},{"t":50.64,"v":0.4},{"t":52.02,"v":0.4},{"t":52.2,"v":3},{"t":52.38,"v":1},{"t":55.74,"v":1},{"t":55.92,"v":5},{"t":56.1,"v":2},{"t":56.34,"v":1},{"t":56.94,"v":0.3},{"t":59.94,"v":0.3}
    ],
    "ms": [
      {"t":0,"v":4},{"t":59.94,"v":4}
    ]
  },
  "layer": [
    {
      "data": {"name": "ws"},
      "mark": {"type": "line"},
      "encoding": {
        "x": {
          "field": "t", "type": "quantitative", "title": null,
          "scale": {"domain": [0, 60], "nice": false, "zero": false},
          "axis": {
            "title": null,
            "values": [0,1,2,3,4,5,6,7,8,9,10,11,12,13,14,15,16,17,18,19,20,21,22,23,24,25,26,27,28,29,30,31,32,33,34,35,36,37,38,39,40,41,42,43,44,45,46,47,48,49,50,51,52,53,54,55,56,57,58,59,60],
            "tickCount": 200,
            "labelExpr": "datum.value % 5 == 0 && datum.value > 0 ? (datum.value == 60 ? '14:00' : '13:' + (datum.value < 10 ? '0' : '') + datum.value) : ''",
            "grid": true,
            "gridColor": {"condition": {"test": "datum.value % 5 == 0", "value": "#e6a2a2"}, "value": "#d6d6d6"},
            "gridDash": [1, 1],
            "gridWidth": 1,
            "domain": false,
            "ticks": true,
            "tickSize": 3,
            "tickColor": {"condition": {"test": "datum.value % 5 == 0", "value": "#777777"}, "value": "#bbbbbb"},
            "labelFont": "DejaVu Sans Mono",
            "labelFontSize": 10,
            "labelColor": "#000000",
            "labelPadding": 2,
            "labelOverlap": false,
            "labelFlush": false,
            "labelBound": false
          }
        },
        "y": {
          "field": "v", "type": "quantitative", "title": null,
          "scale": {"domain": [0, 300], "nice": false, "zero": true},
          "axis": {
            "title": null,
            "values": [0,5,10,15,20,25,30,35,40,45,50,55,60,65,70,75,80,85,90,95,100,105,110,115,120,125,130,135,140,145,150,155,160,165,170,175,180,185,190,195,200,205,210,215,220,225,230,235,240,245,250,255,260,265,270,275,280,285,290,295,300],
            "tickCount": 200,
            "labelExpr": "datum.value % 10 == 0 ? datum.label : ''",
            "grid": true,
            "gridColor": {"condition": {"test": "datum.value % 10 == 0", "value": "#e6a2a2"}, "value": "#d6d6d6"},
            "gridDash": [1, 1],
            "gridWidth": 1,
            "domain": false,
            "ticks": true,
            "tickSize": 3,
            "tickColor": {"condition": {"test": "datum.value % 10 == 0", "value": "#777777"}, "value": "#bbbbbb"},
            "labelFont": "DejaVu Sans Mono",
            "labelFontSize": 10,
            "labelColor": "#000000",
            "labelPadding": 3,
            "labelOverlap": false,
            "labelFlush": false,
            "labelBound": false
          }
        },
        "stroke": {
          "datum": "ws",
          "type": "nominal",
          "title": null,
          "legend": null,
          "scale": {
            "domain": ["ws", "en", "r1", "r2", "r3", "r4", "r5", "cur", "volt", "auto", "pwm", "ms", "en2"],
            "range": ["#e04010", "#e07010", "#e0a000", "#dede00", "#a8e000", "#78e000", "#40e000", "#00e040", "#00e0a0", "#2000e0", "#a000e0", "#e000a0", "#555555"]
          }
        }
      }
    },
    {
      "data": {"name": "rot"},
      "transform": [{"fold": ["r1", "r2", "r3", "r4", "r5"], "as": ["k", "v"]}],
      "mark": {"type": "line"},
      "encoding": {
        "x": {"field": "t", "type": "quantitative", "title": null},
        "y": {"field": "v", "type": "quantitative", "title": null},
        "stroke": {"field": "k", "type": "nominal", "title": null, "legend": null}
      }
    },
    {
      "data": {"name": "cur"},
      "mark": {"type": "line"},
      "encoding": {
        "x": {"field": "t", "type": "quantitative", "title": null},
        "y": {"field": "v", "type": "quantitative", "title": null},
        "stroke": {"datum": "cur", "type": "nominal", "title": null, "legend": null}
      }
    },
    {
      "data": {"name": "volt"},
      "mark": {"type": "line"},
      "encoding": {
        "x": {"field": "t", "type": "quantitative", "title": null},
        "y": {"field": "v", "type": "quantitative", "title": null},
        "stroke": {"datum": "volt", "type": "nominal", "title": null, "legend": null}
      }
    },
    {
      "data": {"name": "pwm"},
      "mark": {"type": "line"},
      "encoding": {
        "x": {"field": "t", "type": "quantitative", "title": null},
        "y": {"field": "v", "type": "quantitative", "title": null},
        "stroke": {"datum": "pwm", "type": "nominal", "title": null, "legend": null}
      }
    },
    {
      "data": {"name": "ms"},
      "mark": {"type": "line"},
      "encoding": {
        "x": {"field": "t", "type": "quantitative", "title": null},
        "y": {"field": "v", "type": "quantitative", "title": null},
        "stroke": {"datum": "ms", "type": "nominal", "title": null, "legend": null}
      }
    },
    {
      "data": {"values": [{"v": 0}]},
      "mark": {"type": "rule", "color": "#555555", "strokeWidth": 1},
      "encoding": {"y": {"field": "v", "type": "quantitative", "title": null}}
    },
    {
      "data": {"values": [{"t": 0}]},
      "mark": {"type": "rule", "color": "#555555", "strokeWidth": 1},
      "encoding": {"x": {"field": "t", "type": "quantitative", "title": null}}
    },
    {
      "data": {"values": []},
      "mark": {"type": "square", "opacity": 1, "filled": true},
      "encoding": {
        "fill": {
          "field": "k", "type": "nominal", "title": null,
          "scale": {
            "domain": ["ws", "en", "r1", "r2", "r3", "r4", "r5"],
            "range": ["#e04010", "#e07010", "#e0a000", "#dede00", "#a8e000", "#78e000", "#40e000"]
          },
          "legend": {
            "orient": "none",
            "legendX": -38,
            "legendY": 522,
            "direction": "horizontal",
            "title": null,
            "padding": 0,
            "symbolType": "square",
            "symbolSize": 64,
            "symbolStrokeColor": "#000000",
            "symbolStrokeWidth": 1,
            "symbolOpacity": 1,
            "labelFont": "DejaVu Sans Mono",
            "labelFontSize": 11.65,
            "labelColor": "#000000",
            "labelOffset": 5,
            "labelLimit": 400,
            "columnPadding": 21,
            "labelExpr": "datum.value == 'ws' ? 'Windspeed AVG' : datum.value == 'en' ? 'error_number AVG' : 'rotor speed ' + slice(datum.value, 1) + ' AVG'"
          }
        }
      }
    },
    {
      "data": {"values": []},
      "mark": {"type": "square", "opacity": 1, "filled": true},
      "encoding": {
        "color": {
          "field": "k", "type": "nominal", "title": null,
          "scale": {
            "domain": ["cur", "volt", "auto", "pwm", "ms", "en2"],
            "range": ["#00e040", "#00e0a0", "#2000e0", "#a000e0", "#e000a0", "#555555"]
          },
          "legend": {
            "orient": "none",
            "legendX": -38,
            "legendY": 536,
            "direction": "horizontal",
            "title": null,
            "padding": 0,
            "symbolType": "square",
            "symbolSize": 64,
            "symbolStrokeColor": "#000000",
            "symbolStrokeWidth": 1,
            "symbolOpacity": 1,
            "labelFont": "DejaVu Sans Mono",
            "labelFontSize": 11.65,
            "labelColor": "#000000",
            "labelOffset": 5,
            "labelLimit": 400,
            "columnPadding": 56,
            "labelExpr": "datum.value == 'cur' ? 'Current AVG' : datum.value == 'volt' ? 'voltage AVG' : datum.value == 'auto' ? 'autostart_number AVG' : datum.value == 'pwm' ? 'pwm_setpoint AVG' : datum.value == 'ms' ? 'main_state_number AVG' : 'error_number AVG'"
          }
        }
      }
    }
  ]
}
